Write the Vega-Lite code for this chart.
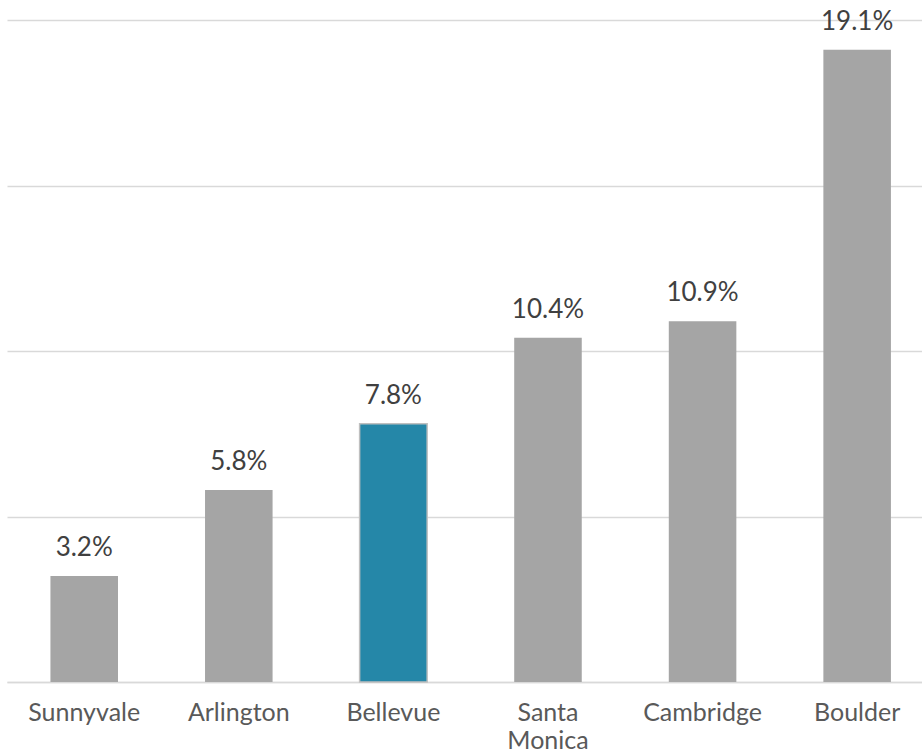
{
  "$schema": "https://vega.github.io/schema/vega-lite/v6.json",
  "autosize": "none",
  "width": 915,
  "height": 662,
  "padding": {"left": 7, "top": 20, "right": 0, "bottom": 72},
  "background": "#ffffff",
  "config": {"view": {"stroke": null}, "font": "Lato"},
  "data": {"values": [
    {"city": "Sunnyvale", "value": 3.2},
    {"city": "Arlington", "value": 5.8},
    {"city": "Bellevue", "value": 7.8},
    {"city": "Santa Monica", "value": 10.4},
    {"city": "Cambridge", "value": 10.9},
    {"city": "Boulder", "value": 19.1}
  ]},
  "encoding": {
    "x": {"field": "city", "type": "nominal", "sort": null,
      "scale": {"paddingInner": 0.563, "paddingOuter": 0.241, "align": 0.583},
      "axis": {"title": null, "domain": true, "domainColor": "#D9D9D9", "domainWidth": 1.5, "ticks": false, "tickSize": 0,
        "labelAngle": 0, "labelFont": "Lato", "labelFontSize": 25, "labelColor": "#595959",
        "labelBaseline": "alphabetic", "labelPadding": 38, "labelLineHeight": 28,
        "labelExpr": "datum.value == 'Santa Monica' ? ['Santa', 'Monica'] : datum.label"}},
    "y": {"field": "value", "type": "quantitative",
      "scale": {"domain": [0, 20], "nice": false},
      "axis": {"title": null, "values": [0, 5, 10, 15, 20], "grid": true, "gridColor": "#D9D9D9", "gridWidth": 1.3,
        "labels": false, "ticks": false, "domain": false}}
  },
  "layer": [
    {"mark": {"type": "bar"},
     "encoding": {
       "color": {"condition": {"test": "datum.city == 'Bellevue'", "value": "#2587A8"}, "value": "#A5A5A5"},
       "stroke": {"condition": {"test": "datum.city == 'Bellevue'", "value": "#BFBFBF"}, "value": null},
       "strokeWidth": {"condition": {"test": "datum.city == 'Bellevue'", "value": 1.5}, "value": 0}
     }},
    {"mark": {"type": "text", "baseline": "alphabetic", "dy": -20, "font": "Lato", "fontSize": 26, "color": "#404040",
              "text": {"expr": "format(datum.value, '.1f') + '%'"}}}
  ]
}
